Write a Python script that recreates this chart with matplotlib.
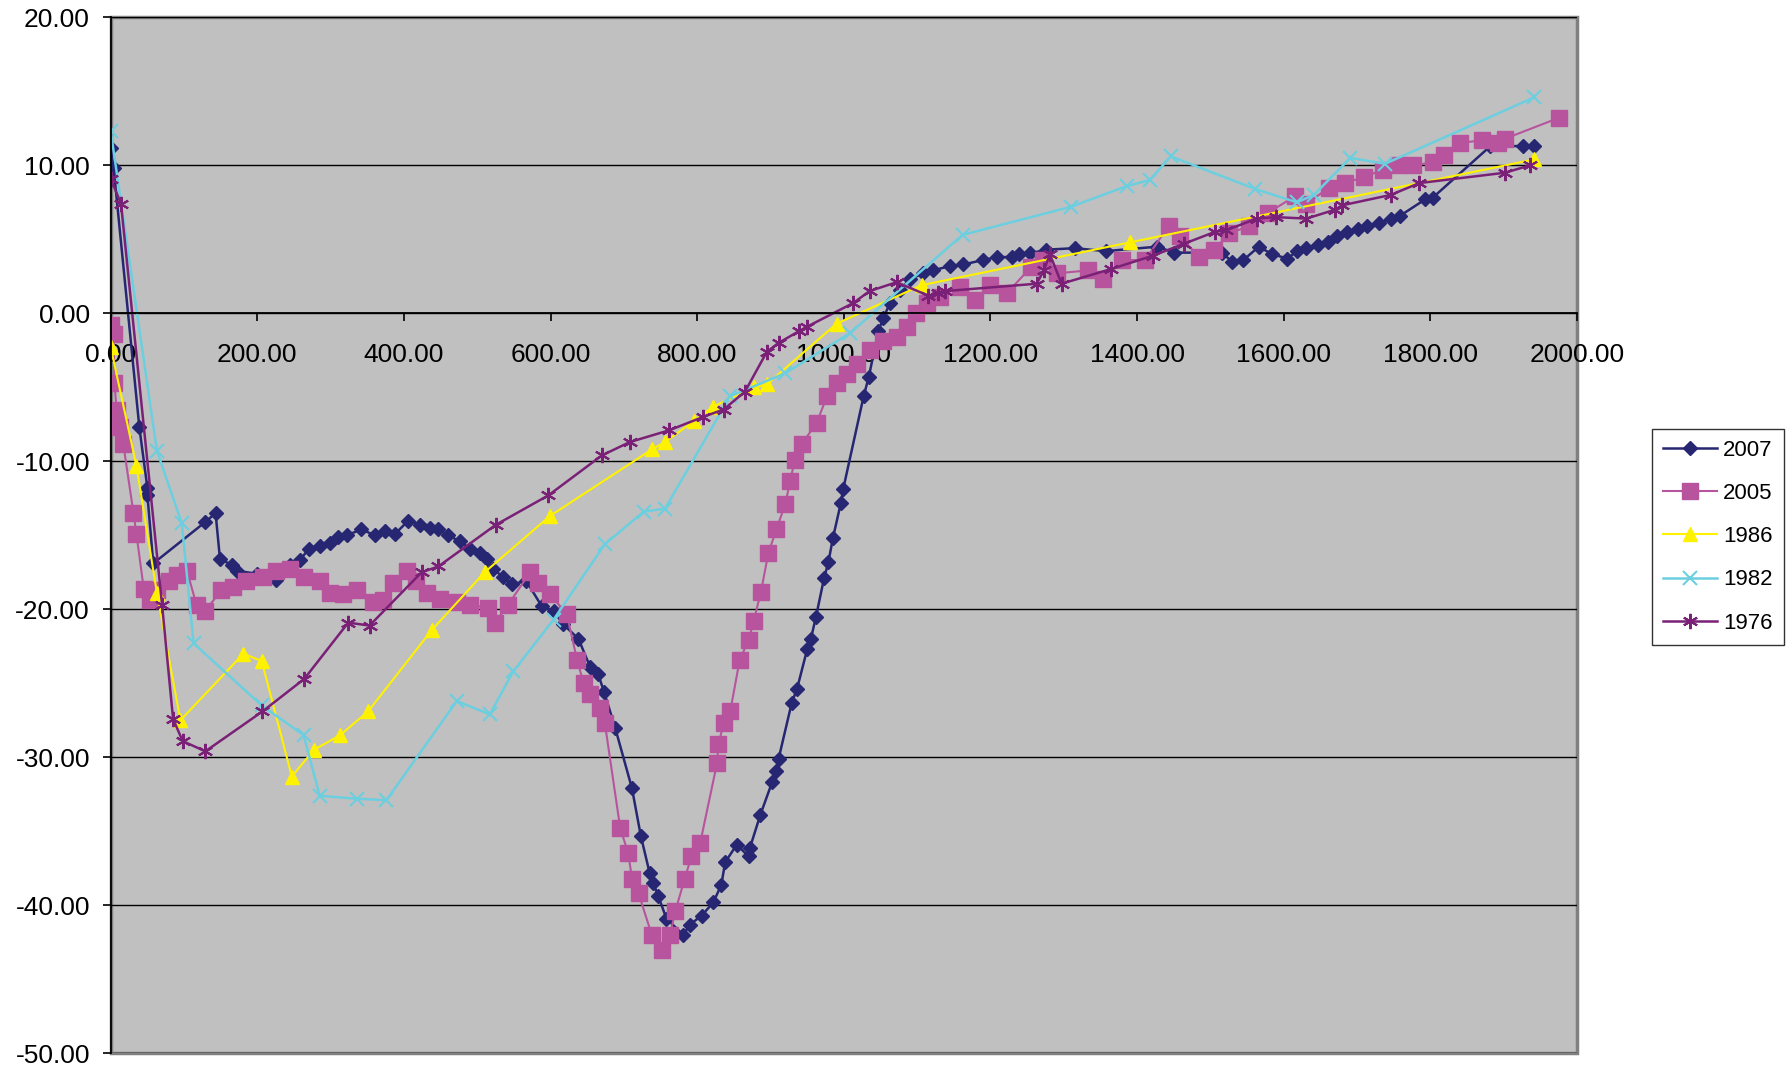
import matplotlib
matplotlib.use("Agg")
import matplotlib.pyplot as plt
from matplotlib.ticker import FormatStrFormatter, MultipleLocator

plt.rcParams["font.family"] = ["Liberation Sans", "DejaVu Sans"]

# values
x2007 = [0, 4, 39, 50, 50, 58, 129, 143, 149, 165,
         172, 200, 226, 245, 258, 270, 285, 299, 310, 322,
         342, 360, 374, 388, 406, 422, 435, 447, 460, 476,
         490, 504, 513, 522, 535, 547, 567, 588, 604, 617,
         638, 654, 665, 673, 688, 711, 723, 735, 740, 747,
         758, 781, 790, 806, 822, 833, 838, 854, 870, 872,
         886, 902, 908, 911, 929, 936, 950, 955, 962, 973,
         979, 985, 996, 999, 1027, 1034, 1047, 1054, 1063, 1077,
         1090, 1108, 1122, 1145, 1163, 1190, 1209, 1229, 1239, 1254,
         1276, 1315, 1357, 1427, 1451, 1516, 1529, 1545, 1566, 1584,
         1605, 1618, 1631, 1647, 1660, 1673, 1686, 1701, 1714, 1730,
         1746, 1759, 1793, 1803, 1882, 1926, 1942]
y2007 = [11.2, 9.8, -7.7, -11.8, -12.3, -16.9, -14.1, -13.5, -16.6, -17.0,
         -17.4, -17.6, -18.0, -17.0, -16.7, -15.9, -15.7, -15.5, -15.1, -15.0,
         -14.6, -15.0, -14.7, -14.9, -14.0, -14.3, -14.5, -14.6, -15.0, -15.4,
         -15.9, -16.2, -16.6, -17.3, -17.8, -18.3, -18.1, -19.8, -20.1, -21.0,
         -22.0, -23.9, -24.4, -25.6, -28.0, -32.1, -35.3, -37.8, -38.5, -39.4,
         -40.9, -42.0, -41.3, -40.7, -39.8, -38.6, -37.1, -35.9, -36.7, -36.1,
         -33.9, -31.7, -30.9, -30.1, -26.3, -25.4, -22.7, -22.0, -20.5, -17.9,
         -16.8, -15.2, -12.8, -11.9, -5.6, -4.3, -1.2, -0.3, 0.7, 1.6,
         2.3, 2.7, 2.9, 3.2, 3.3, 3.6, 3.8, 3.8, 4.0, 4.05,
         4.3, 4.4, 4.2, 4.5, 4.1, 4.1, 3.5, 3.6, 4.5, 4.0,
         3.7, 4.2, 4.4, 4.6, 4.8, 5.2, 5.5, 5.7, 5.9, 6.1,
         6.4, 6.6, 7.7, 7.8, 11.3, 11.3, 11.3]

x2005 = [0, 4, 5, 8, 13, 17, 31, 35, 45, 54,
         63, 79, 90, 104, 117, 129, 151, 167, 185, 208,
         226, 245, 263, 285, 299, 317, 336, 358, 372, 385,
         404, 417, 431, 449, 472, 490, 515, 524, 542, 572,
         583, 599, 622, 636, 645, 654, 668, 674, 695, 706,
         711, 720, 738, 752, 763, 770, 783, 792, 804, 827,
         829, 836, 845, 858, 870, 877, 887, 897, 908, 920,
         927, 933, 943, 963, 977, 990, 1004, 1018, 1036, 1054,
         1072, 1086, 1099, 1113, 1131, 1158, 1179, 1200, 1223, 1255,
         1272, 1291, 1333, 1354, 1380, 1411, 1443, 1458, 1485, 1505,
         1526, 1553, 1579, 1615, 1631, 1662, 1683, 1709, 1735, 1756,
         1777, 1803, 1819, 1840, 1871, 1892, 1902, 1975]
y2005 = [-0.8, -1.4, -4.7, -6.5, -7.7, -8.8, -13.5, -14.9, -18.6, -19.4,
         -18.7, -18.1, -17.7, -17.4, -19.7, -20.1, -18.7, -18.5, -18.1, -17.8,
         -17.4, -17.3, -17.8, -18.1, -18.9, -19.0, -18.7, -19.5, -19.4, -18.2,
         -17.4, -18.1, -18.9, -19.3, -19.5, -19.7, -19.9, -20.9, -19.7, -17.5,
         -18.2, -19.0, -20.3, -23.4, -25.0, -25.7, -26.7, -27.7, -34.8, -36.5,
         -38.2, -39.2, -42.0, -43.0, -42.0, -40.4, -38.2, -36.7, -35.8, -30.4,
         -29.1, -27.7, -26.9, -23.4, -22.1, -20.8, -18.8, -16.2, -14.6, -12.9,
         -11.3, -9.9, -8.8, -7.4, -5.6, -4.7, -4.1, -3.4, -2.5, -1.9,
         -1.6, -0.9, 0.0, 0.7, 1.1, 1.8, 0.9, 1.9, 1.4, 3.1,
         3.6, 2.7, 2.9, 2.3, 3.6, 3.6, 5.9, 5.2, 3.8, 4.3,
         5.4, 5.9, 6.8, 7.9, 7.4, 8.5, 8.8, 9.2, 9.7, 10.0,
         10.0, 10.2, 10.7, 11.5, 11.7, 11.5, 11.8, 13.2]

x1986 = [0, 35, 63, 95, 181, 206, 247, 277, 313, 351, 438, 510,
         599, 738, 756, 795, 822, 877, 895, 990, 1106, 1391, 1942]
y1986 = [-2.3, -10.3, -18.9, -27.5, -23.0, -23.5, -31.3, -29.5, -28.5, -26.9, -21.4, -17.5,
         -13.7, -9.2, -8.7, -7.3, -6.3, -5.0, -4.8, -0.7, 1.9, 4.8, 10.4]

x1982 = [0, 63, 97, 113, 206, 263, 285, 336, 376, 472,
         517, 549, 604, 674, 727, 756, 845, 920, 1008, 1162,
         1310, 1386, 1417, 1446, 1561, 1618, 1641, 1691, 1738, 1942]
y1982 = [12.3, -9.3, -14.2, -22.3, -26.5, -28.5, -32.6, -32.8, -32.9, -26.2,
         -27.1, -24.2, -20.7, -15.6, -13.4, -13.2, -5.6, -4.05, -1.35, 5.3,
         7.2, 8.6, 9.0, 10.6, 8.4, 7.5, 8.0, 10.5, 10.1, 14.6]

x1976 = [0, 14, 70, 85, 98, 129, 207, 264, 324, 353,
         424, 447, 525, 597, 670, 708, 762, 808, 836, 865,
         895, 911, 939, 950, 1013, 1035, 1072, 1115, 1129, 1138,
         1263, 1273, 1281, 1297, 1365, 1422, 1464, 1506, 1521, 1563,
         1589, 1631, 1670, 1680, 1746, 1785, 1902, 1936]
y1976 = [9.1, 7.4, -19.7, -27.4, -28.9, -29.6, -26.9, -24.7, -20.9, -21.1,
         -17.5, -17.1, -14.3, -12.3, -9.6, -8.7, -7.9, -7.0, -6.5, -5.3,
         -2.6, -2.0, -1.2, -0.9, 0.7, 1.5, 2.1, 1.2, 1.35, 1.5,
         2.0, 2.9, 4.0, 2.0, 3.0, 3.9, 4.7, 5.5, 5.6, 6.4,
         6.5, 6.4, 7.0, 7.3, 8.0, 8.8, 9.5, 10.0]

fig = plt.figure(figsize=(17.92, 10.69), dpi=100)
ax = fig.add_axes([0.0618, 0.0147, 0.8182, 0.9691])
ax.set_facecolor("#C0C0C0")
ax.patch.set_edgecolor("#808080")
ax.patch.set_linewidth(2.5)

ax.plot(x2007, y2007, color="#262673", lw=1.8, marker="D", ms=7, label="2007")
ax.plot(x2005, y2005, color="#B8539D", lw=1.5, marker="s", ms=11.5, label="2005")
ax.plot(x1986, y1986, color="#FFF200", lw=1.5, marker="^", ms=10, label="1986")
ax.plot(x1982, y1982, color="#6CCFE0", lw=1.8, marker="x", ms=10, mew=1.5, label="1982")
ax.plot(x1976, y1976, color="#7A2177", lw=1.8, marker=(6, 2, 0), ms=11, mew=1.5, label="1976")

ax.set_xlim(0, 2000)
ax.set_ylim(-50, 20)
ax.xaxis.set_major_locator(MultipleLocator(200))
ax.yaxis.set_major_locator(MultipleLocator(10))
ax.xaxis.set_major_formatter(FormatStrFormatter("%.2f"))
ax.yaxis.set_major_formatter(FormatStrFormatter("%.2f"))

ax.spines["bottom"].set_position(("data", 0))
ax.spines["top"].set_visible(False)
ax.spines["right"].set_visible(False)
for s in ("left", "bottom"):
    ax.spines[s].set_color("black")
    ax.spines[s].set_linewidth(1.3)

ax.tick_params(axis="y", direction="out", length=6, width=1.2, labelsize=19, pad=9)
ax.tick_params(axis="x", direction="out", length=5.5, width=1.2, labelsize=19, pad=16)
ax.yaxis.grid(True, color="black", lw=1)
ax.set_axisbelow(True)

fig.legend(loc="upper left", bbox_to_anchor=(0.922, 0.599), borderaxespad=0,
           fontsize=16, frameon=True, fancybox=False, edgecolor="black",
           handlelength=2.4, labelspacing=1.0, borderpad=0.5, handletextpad=0.3)

fig.savefig("out.png", dpi=100)
